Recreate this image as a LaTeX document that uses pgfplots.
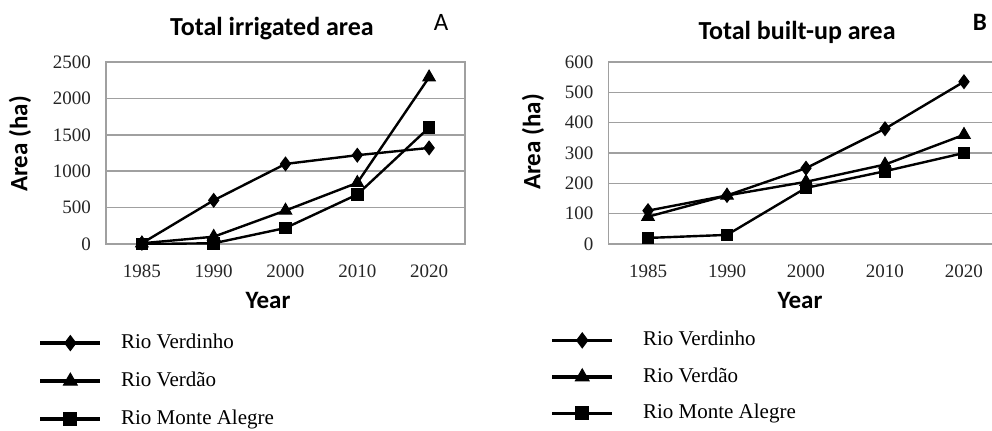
\documentclass[border=0pt]{standalone}
\usepackage{fontspec}
\setmainfont{Liberation Serif}
\newfontfamily\calibri{Carlito}
\usepackage{pgfplots}
\pgfplotsset{compat=1.18}
\definecolor{gridgray}{RGB}{160,160,160}
\pgfplotsset{
  legend image code/.code={\draw[mark repeat=2,mark phase=2,#1,line width=1.8pt,mark options={line width=0.5pt, scale=1.1}] plot coordinates {(0pt,0pt)(15pt,0pt)(30pt,0pt)};},
  base/.style={
    scale only axis, height=91pt,
    xmin=-0.5, xmax=4.5, ymin=0,
    xtick={0,1,2,3,4}, xticklabels={1985,1990,2000,2010,2020},
    major tick length=0pt,
    ymajorgrids, grid style={gridgray, line width=0.75pt},
    axis line style={gridgray, line width=0.75pt},
    tick label style={font=\fontsize{9.5}{10}\selectfont, black!85},
    xticklabel style={yshift=-7pt},
    yticklabel style={xshift=-4pt},
    /pgf/number format/assume math mode=true,
    /pgf/number format/1000 sep={},
    legend cell align=left,
  },
  pl/.style={black, line width=1.2pt, mark options={line width=0.5pt}},
  lsty/.style={legend style={draw=none, fill=none, anchor=north west, inner sep=0pt,
    font=\fontsize{10.5}{12}\selectfont,
    nodes={inner sep=0pt, text height=7.5pt, text depth=2pt},
    row sep=#1}},
}
\begin{document}
\begin{tikzpicture}
\useasboundingbox (0pt,0pt) rectangle (496pt,215pt);
\begin{axis}[base, width=179.5pt, at={(53pt,93pt)}, anchor=south west,
  ymax=2500, ytick={0,500,1000,1500,2000,2500},
  lsty=9.5pt,
  legend style={at={(axis description cs:-0.189,-0.49)}, column sep=9.5pt}]
\addplot[pl, mark=diamond*, mark size=3.4pt] coordinates {(0,10)(1,600)(2,1100)(3,1220)(4,1320)};
\addlegendentry{Rio Verdinho}
\addplot[pl, mark=triangle*, mark size=3.6pt] coordinates {(0,10)(1,100)(2,460)(3,840)(4,2290)};
\addlegendentry{Rio Verdão}
\addplot[pl, mark=square*, mark size=2.9pt] coordinates {(0,0)(1,10)(2,220)(3,680)(4,1600)};
\addlegendentry{Rio Monte Alegre}
\end{axis}
\begin{axis}[base, width=197.5pt, at={(304.25pt,93pt)}, anchor=south west,
  ymax=600, ytick={0,100,200,300,400,500,600},
  lsty=8.75pt,
  legend style={at={(axis description cs:-0.148,-0.475)}, column sep=14.5pt}]
\addplot[pl, mark=diamond*, mark size=3.4pt] coordinates {(0,110)(1,160)(2,250)(3,380)(4,535)};
\addlegendentry{Rio Verdinho}
\addplot[pl, mark=triangle*, mark size=3.6pt] coordinates {(0,90)(1,160)(2,205)(3,262)(4,360)};
\addlegendentry{Rio Verdão}
\addplot[pl, mark=square*, mark size=2.9pt] coordinates {(0,20)(1,30)(2,185)(3,240)(4,300)};
\addlegendentry{Rio Monte Alegre}
\end{axis}
\node[font=\calibri\bfseries\fontsize{13}{15}\selectfont] at (136pt,200.5pt) {Total irrigated area};
\node[font=\calibri\fontsize{12.5}{14}\selectfont] at (220.5pt,204pt) {A};
\node[font=\calibri\bfseries\fontsize{13}{15}\selectfont] at (398.5pt,199pt) {Total built-up area};
\node[font=\calibri\bfseries\fontsize{12.5}{14}\selectfont] at (490pt,204pt) {B};
\node[font=\calibri\bfseries\fontsize{12.5}{14}\selectfont] at (134pt,65pt) {Year};
\node[font=\calibri\bfseries\fontsize{12.5}{14}\selectfont] at (400pt,65pt) {Year};
\node[font=\calibri\bfseries\fontsize{12.5}{14}\selectfont, rotate=90] at (10pt,143pt) {Area (ha)};
\node[font=\calibri\bfseries\fontsize{12.5}{14}\selectfont, rotate=90] at (266.5pt,144pt) {Area (ha)};
\end{tikzpicture}
\end{document}
